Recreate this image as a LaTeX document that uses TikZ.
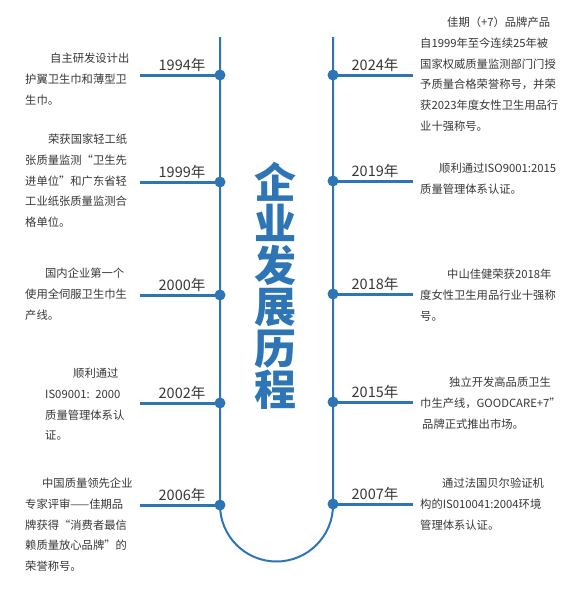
\documentclass[tikz,border=0pt]{standalone}
\usepackage{fontspec}
\setmainfont{Noto Sans CJK SC}
\usepackage{tikz}
\definecolor{tline}{RGB}{46,117,182}
\definecolor{ttext}{RGB}{55,55,55}

\begin{document}
\begin{tikzpicture}[x=1pt,y=-1pt,
  dot/.style={circle,fill=tline,inner sep=0pt,minimum size=11pt},
  year/.style={font=\fontsize{14.5}{16}\selectfont,text=ttext,inner sep=0pt,anchor=base},
  event/.style={font=\fontsize{11.3}{20.8}\selectfont,text=ttext,inner sep=0pt,
    anchor=base west,align=left,text width=#1},
  stem/.style={tline,line width=3pt},
  title/.style={font=\fontsize{42}{41.5}\selectfont\bfseries,text=tline,
    inner sep=0pt,anchor=base,align=center}]
\useasboundingbox (0,0) rectangle (584,600);
% time points
\foreach \yr/\yy in {1994/75,1999/182,2000/295,2002/403,2006/505}{
  \coordinate (p\yr) at (220,\yy);
  \coordinate (s\yr) at (140,\yy);
  \node[year] (y\yr) at (182,\yy-5) {\yr{}年};
}
\foreach \yr/\yy in {2024/75,2019/181,2018/294,2015/402,2007/504}{
  \coordinate (p\yr) at (333,\yy);
  \coordinate (s\yr) at (413,\yy);
  \node[year] (y\yr) at (375,\yy-5) {\yr{}年};
}
\coordinate (ltop) at (220,37);
\coordinate (rtop) at (333,37);
% spine
\draw[tline,line width=2pt] (ltop) -- (p2006)
  arc[start angle=180,end angle=360,radius=56.5pt] -- (rtop);
\foreach \yr in {1994,1999,2000,2002,2006,2024,2019,2018,2015,2007}{
  \draw[stem] (s\yr) -- (p\yr);
  \node[dot] (d\yr) at (p\yr) {};
}
\node[title] (ttl) at (275,405.5) {企\\业\\发\\展\\历\\程};
% left side
\node[event=110pt] (e1994) at (25,62.4)
  {\hspace*{25pt}自主研发设计出\\护翼卫生巾和薄型卫\\生巾。};
\node[event=110pt] (e1999) at (25,143.4)
  {\hspace*{23pt}荣获国家轻工纸\\张质量监测“卫生先\\进单位”和广东省轻\\工业纸张质量监测合\\格单位。};
\node[event=110pt] (e2000) at (25,277.4)
  {\hspace*{20pt}国内企业第一个\\使用全伺服卫生巾生\\产线。};
\node[event=100pt] (e2002) at (45,377.4)
  {\hspace*{28pt}顺利通过\\IS09001: 2000\\质量管理体系认\\证。};
\node[event=110pt] (e2006) at (25,487.4)
  {\hspace*{17pt}中国质量领先企业\\专家评审——佳期品\\牌获得“消费者最信\\赖质量放心品牌”的\\荣誉称号。};
% right side
\node[event=155pt] (e2024) at (420,26.4)
  {\hspace*{27pt}佳期（+7）品牌产品\\自1999年至今连续25年被\\国家权威质量监测部门门授\\予质量合格荣誉称号，并荣\\获2023年度女性卫生用品行\\业十强称号。};
\node[event=155pt] (e2019) at (420,172.4)
  {\hspace*{19pt}顺利通过ISO9001:2015\\质量管理体系认证。};
\node[event=155pt] (e2018) at (420,278.4)
  {\hspace*{27pt}中山佳健荣获2018年\\度女性卫生用品行业十强称\\号。};
\node[event=155pt] (e2015) at (420,386.4)
  {\hspace*{29pt}独立开发高品质卫生\\巾生产线，GOODCARE+7”\\\hspace*{2pt}品牌正式推出市场。};
\node[event=155pt] (e2007) at (420,487.4)
  {\hspace*{22pt}通过法国贝尔验证机\\构的IS010041:2004环境\\管理体系认证。};
\end{tikzpicture}
\end{document}
